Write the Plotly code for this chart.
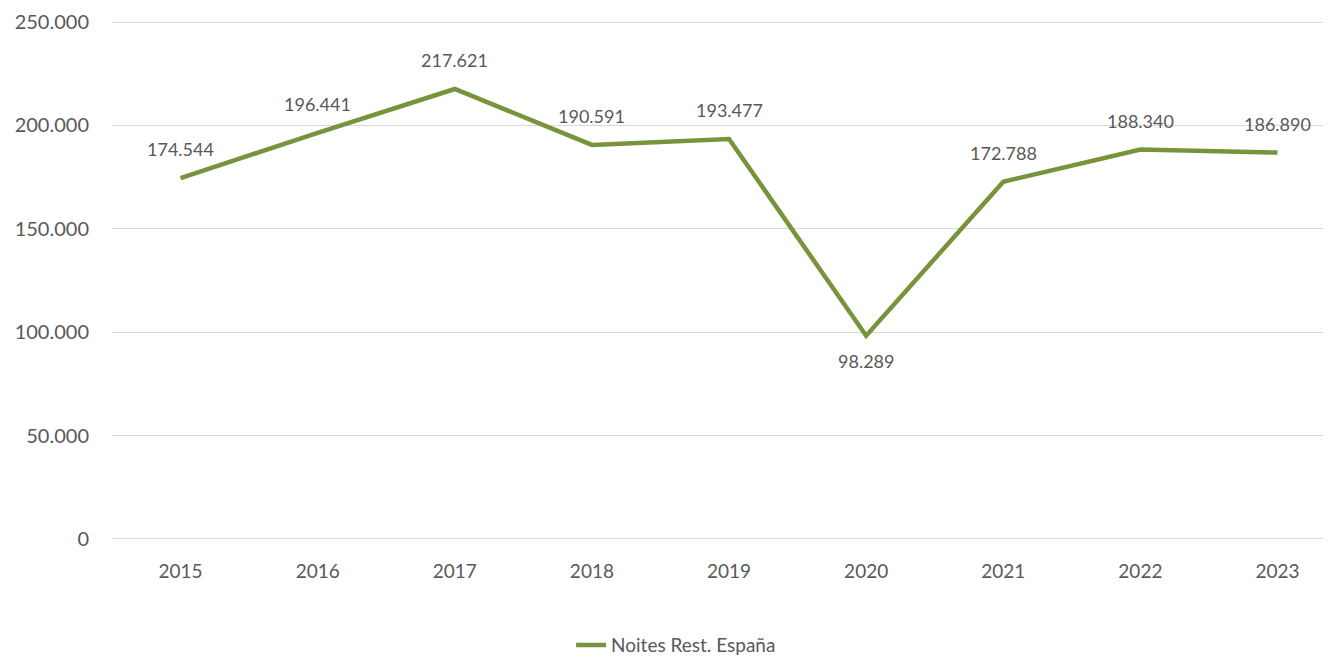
import plotly.graph_objects as go

years = ["2015", "2016", "2017", "2018", "2019", "2020", "2021", "2022", "2023"]
values = [174544, 196441, 217621, 190591, 193477, 98289, 172788, 188340, 186890]
labels = ["174.544", "196.441", "217.621", "190.591", "193.477", "98.289", "172.788", "188.340", "186.890"]
label_below = [False, False, False, False, False, True, False, False, False]
y_ticks = [0, 50000, 100000, 150000, 200000, 250000]
y_tick_text = ["0", "50.000", "100.000", "150.000", "200.000", "250.000"]

color = "#77933C"
font_family = "Lato, 'Open Sans', sans-serif"
text_color = "#595959"

xs = list(range(len(years)))

fig = go.Figure()
fig.add_trace(go.Scatter(
    x=xs, y=values, mode="lines", name="Noites Rest. España",
    line=dict(color=color, width=4.5), showlegend=True,
))

for x, v, lab, below in zip(xs, values, labels, label_below):
    fig.add_annotation(x=x, y=v, text=lab, showarrow=False,
                       yshift=-25 if below else 29,
                       font=dict(size=18, color=text_color, family=font_family))

fig.update_layout(
    width=1331, height=659,
    margin=dict(l=104, r=8, t=12, b=126, autoexpand=False),
    paper_bgcolor="white", plot_bgcolor="white",
    font=dict(family=font_family, color=text_color, size=19),
    xaxis=dict(tickvals=xs, ticktext=years, range=[-0.5, 8.39],
               showgrid=False, zeroline=False, showline=False, automargin=False,
               ticks="", ticklabelstandoff=17, tickfont=dict(size=19)),
    yaxis=dict(tickvals=y_ticks, ticktext=y_tick_text, range=[-1000, 251000],
               showgrid=True, gridcolor="#D9D9D9", gridwidth=1.3, automargin=False,
               zeroline=False, showline=False, ticks="",
               ticklabelstandoff=22, tickfont=dict(size=20)),
    legend=dict(orientation="h", x=0.3766, y=-0.2, xanchor="left", yanchor="middle",
                font=dict(size=19, color=text_color)),
)

fig.write_html("out.html")
